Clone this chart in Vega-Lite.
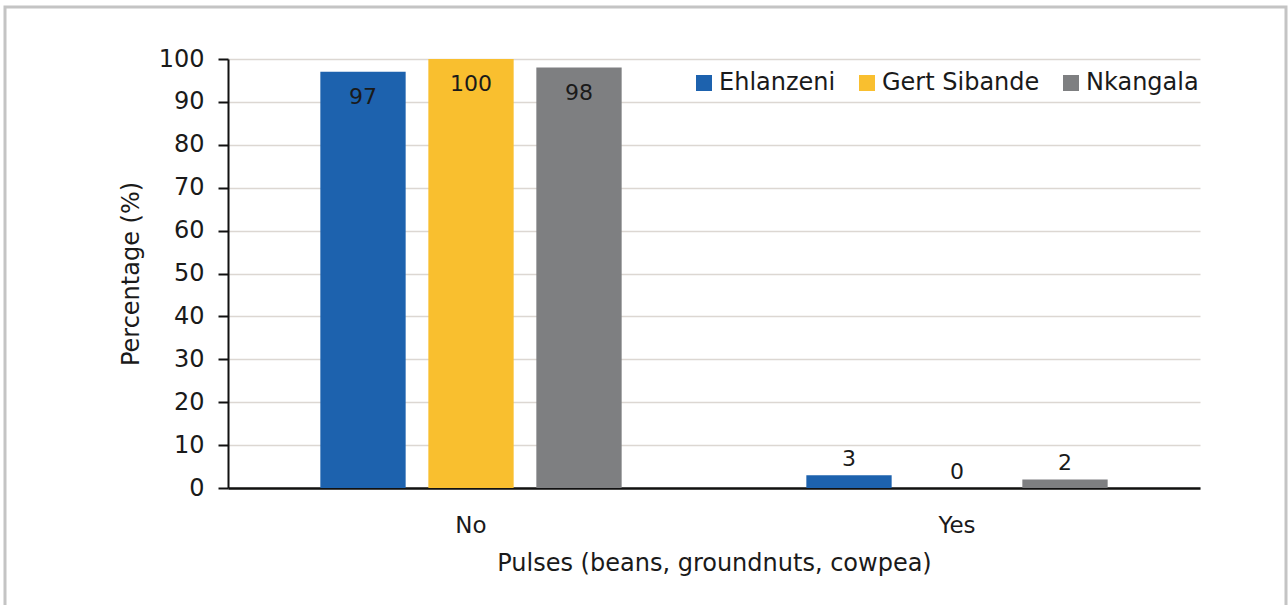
{
  "$schema": "https://vega.github.io/schema/vega-lite/v6.json",
  "width": 1281,
  "height": 605,
  "autosize": {"type": "none"},
  "padding": {"left": 5, "top": 7, "right": 2, "bottom": 0},
  "background": "white",
  "config": {
    "view": {"stroke": "#c4c4c4", "strokeWidth": 3},
    "font": "DejaVu Sans",
    "axis": {"labelFont": "DejaVu Sans", "titleFont": "DejaVu Sans", "labelColor": "#1a1a1a", "titleColor": "#1a1a1a", "titleFontWeight": "normal"},
    "legend": {"labelFont": "DejaVu Sans"}
  },
  "data": {
    "values": [
      {"pulses": "No", "district": "Ehlanzeni", "pct": 97},
      {"pulses": "No", "district": "Gert Sibande", "pct": 100},
      {"pulses": "No", "district": "Nkangala", "pct": 98},
      {"pulses": "Yes", "district": "Ehlanzeni", "pct": 3},
      {"pulses": "Yes", "district": "Gert Sibande", "pct": 0},
      {"pulses": "Yes", "district": "Nkangala", "pct": 2}
    ]
  },
  "encoding": {
    "x": {
      "field": "pulses",
      "type": "nominal",
      "sort": ["No", "Yes"],
      "scale": {"range": [223, 1195], "paddingInner": 0.38, "paddingOuter": 0.19},
      "title": "Pulses (beans, groundnuts, cowpea)",
      "axis": {
        "offset": -124,
        "labelAngle": 0,
        "ticks": false,
        "tickSize": 0,
        "labelPadding": 26,
        "labelFontSize": 23,
        "titleFontSize": 24,
        "titlePadding": 14,
        "domainColor": "#111111",
        "domainWidth": 2.5,
        "grid": false
      }
    },
    "xOffset": {
      "field": "district",
      "type": "nominal",
      "sort": ["Ehlanzeni", "Gert Sibande", "Nkangala"],
      "scale": {"paddingInner": 0.21, "paddingOuter": 0}
    },
    "y": {
      "field": "pct",
      "type": "quantitative",
      "scale": {"domain": [0, 100], "range": [481, 52]},
      "title": "Percentage (%)",
      "axis": {
        "offset": -223,
        "values": [0, 10, 20, 30, 40, 50, 60, 70, 80, 90, 100],
        "labelFontSize": 24,
        "labelPadding": 14,
        "tickSize": 10,
        "tickWidth": 2,
        "tickColor": "#111111",
        "domainColor": "#111111",
        "domainWidth": 2,
        "gridColor": "#dcd7d2",
        "gridWidth": 1.5,
        "titleFontSize": 24,
        "titlePadding": 15
      }
    }
  },
  "layer": [
    {
      "mark": {"type": "bar"},
      "encoding": {
        "color": {
          "field": "district",
          "type": "nominal",
          "sort": ["Ehlanzeni", "Gert Sibande", "Nkangala"],
          "scale": {"domain": ["Ehlanzeni", "Gert Sibande", "Nkangala"], "range": ["#1d62ae", "#f9bf2f", "#7e7f81"]},
          "legend": {
            "title": null,
            "orient": "none",
            "legendX": 687,
            "legendY": 64,
            "direction": "horizontal",
            "symbolType": "square",
            "symbolSize": 256,
            "symbolStrokeWidth": 0,
            "labelFontSize": 24,
            "labelColor": "#1a1a1a",
            "labelOffset": 3,
            "columnPadding": 19
          }
        }
      }
    },
    {
      "transform": [{"filter": "datum.pct >= 50"}],
      "mark": {"type": "text", "baseline": "middle", "dy": 25, "fontSize": 22, "color": "#1a1a1a"},
      "encoding": {"text": {"field": "pct", "type": "quantitative"}}
    },
    {
      "transform": [{"filter": "datum.pct < 50"}],
      "mark": {"type": "text", "baseline": "middle", "dy": -16, "fontSize": 22, "color": "#1a1a1a"},
      "encoding": {"text": {"field": "pct", "type": "quantitative"}}
    }
  ]
}
